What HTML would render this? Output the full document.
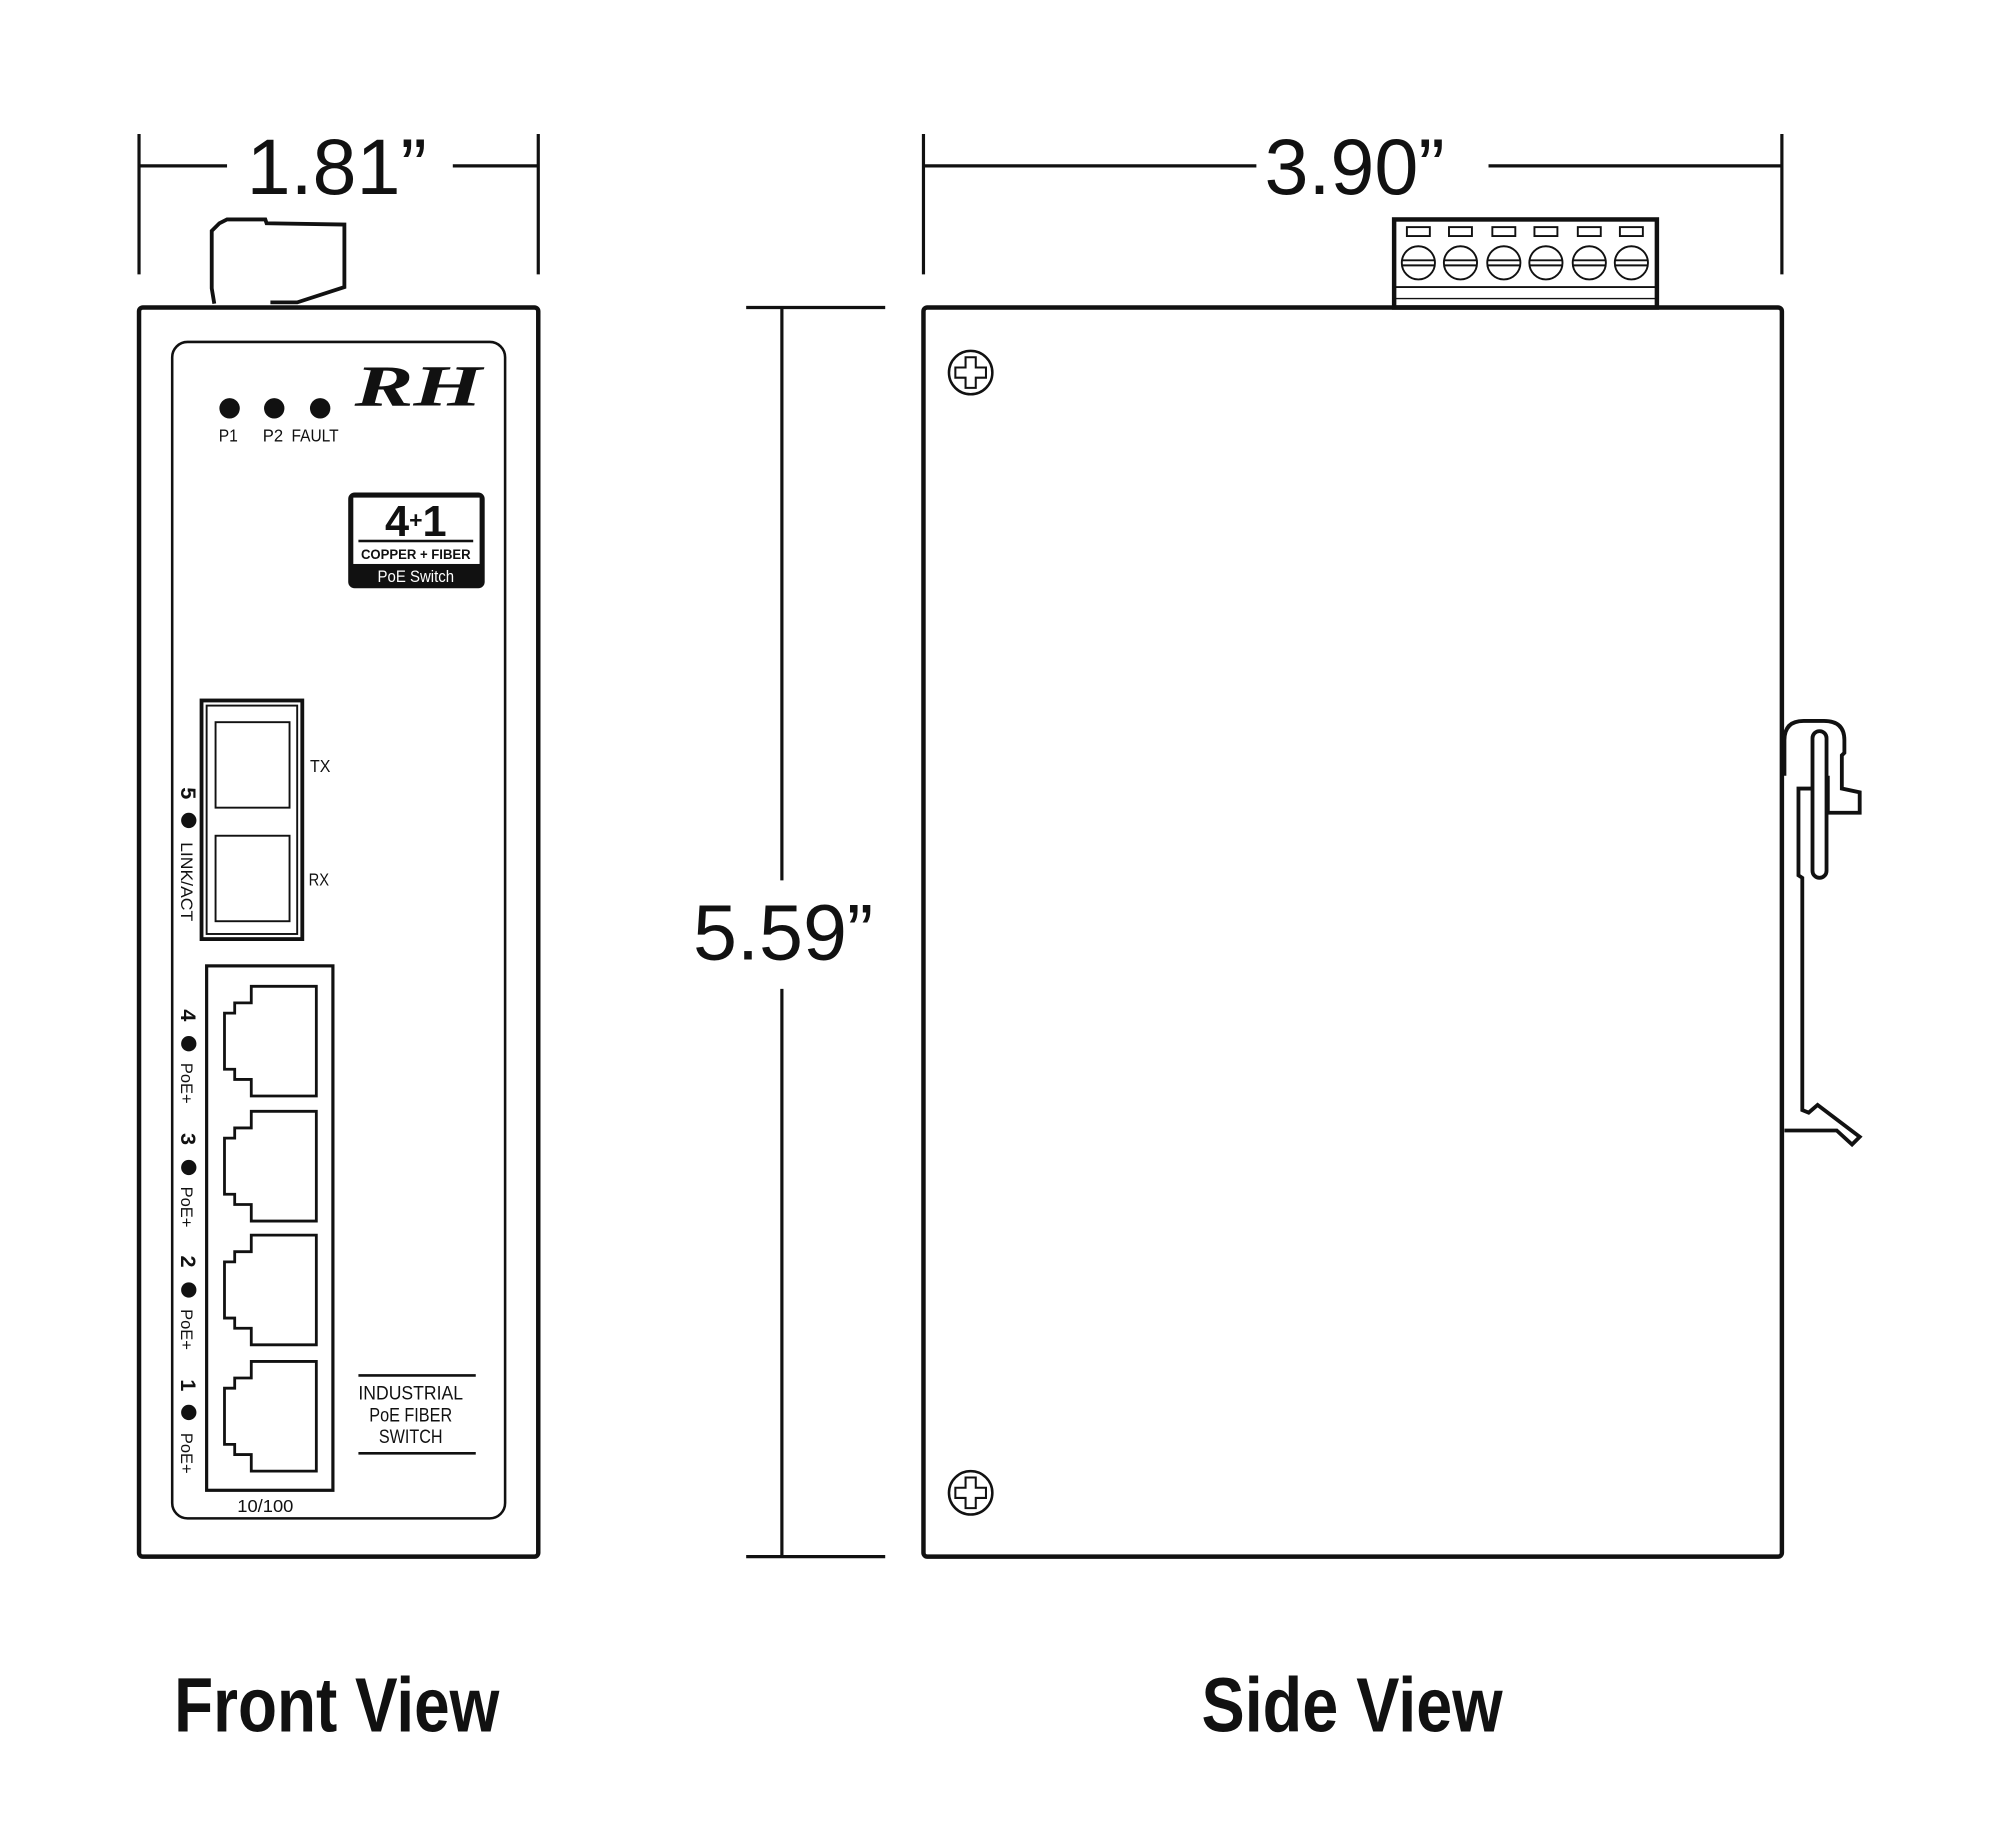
<!DOCTYPE html>
<html><head><meta charset="utf-8"><style>html,body{margin:0;padding:0;background:#fff}svg{display:block}</style></head><body>
<svg width="2000" height="1845" viewBox="0 0 1568 1446" preserveAspectRatio="none" xmlns="http://www.w3.org/2000/svg" font-family="Liberation Sans, sans-serif">
<g stroke="#111" fill="none" stroke-width="2.5">
<line x1="109" y1="105" x2="109" y2="215"/><line x1="422" y1="105" x2="422" y2="215"/>
<line x1="109" y1="130" x2="178" y2="130"/><line x1="355" y1="130" x2="422" y2="130"/>
<line x1="724" y1="105" x2="724" y2="215"/><line x1="1397" y1="105" x2="1397" y2="215"/>
<line x1="724" y1="130" x2="985" y2="130"/><line x1="1167" y1="130" x2="1397" y2="130"/>
<line x1="585" y1="241" x2="694" y2="241"/><line x1="585" y1="1220" x2="694" y2="1220"/>
<line x1="613" y1="241" x2="613" y2="690"/><line x1="613" y1="775" x2="613" y2="1220"/>
<rect x="109" y="241" width="313" height="979" rx="3" stroke-width="3.5"/>
<rect x="135" y="268" width="261" height="922" rx="12" stroke-width="2"/>
<path d="M168,238 L166,226 L166,181 L172,175 L178,172 L208,172 L209,175 L270,176 L270,225 L233,237 L212,237" stroke-width="3"/>
<rect x="158" y="549" width="79" height="187" stroke-width="3"/>
<rect x="162" y="553" width="71" height="179" stroke-width="1.5"/>
<rect x="169" y="566" width="58" height="67" stroke-width="1.5"/>
<rect x="169" y="655" width="58" height="67" stroke-width="1.5"/>
<rect x="162" y="757" width="99" height="411" stroke-width="2.5"/>
<g stroke-width="2.2">
<path d="M197,773 H248 V859 H197 V846 H184 V838 H176 V794 H184 V786 H197 Z"/>
<path d="M197,871 H248 V957 H197 V944 H184 V936 H176 V892 H184 V884 H197 Z"/>
<path d="M197,968 H248 V1054 H197 V1041 H184 V1033 H176 V989 H184 V981 H197 Z"/>
<path d="M197,1067 H248 V1153 H197 V1140 H184 V1132 H176 V1088 H184 V1080 H197 Z"/>
</g>
<line x1="281" y1="1078" x2="373" y2="1078" stroke-width="2"/>
<line x1="281" y1="1139" x2="373" y2="1139" stroke-width="2"/>
<rect x="724" y="241" width="673" height="979" rx="3" stroke-width="3.5"/>
<g stroke-width="2">
<circle cx="761" cy="292" r="17"/><path d="M757,280 h8 v8 h8 v8 h-8 v8 h-8 v-8 h-8 v-8 h8 z" stroke-width="1.6"/>
<circle cx="761" cy="1170" r="17"/><path d="M757,1158 h8 v8 h8 v8 h-8 v8 h-8 v-8 h-8 v-8 h8 z" stroke-width="1.6"/>
</g>
<rect x="1093" y="172" width="206" height="69" stroke-width="3.5"/>
<line x1="1094" y1="225" x2="1298" y2="225" stroke-width="1.5"/>
<line x1="1094" y1="234" x2="1298" y2="234" stroke-width="1"/>
<g stroke-width="1.5">
<rect x="1103" y="178" width="18" height="7"/><rect x="1136" y="178" width="18" height="7"/><rect x="1170" y="178" width="18" height="7"/><rect x="1203" y="178" width="18" height="7"/><rect x="1237" y="178" width="18" height="7"/><rect x="1270" y="178" width="18" height="7"/>
<circle cx="1112" cy="206" r="13"/><circle cx="1145" cy="206" r="13"/><circle cx="1179" cy="206" r="13"/><circle cx="1212" cy="206" r="13"/><circle cx="1246" cy="206" r="13"/><circle cx="1279" cy="206" r="13"/>
<path d="M1099,204h26M1099,208h26M1132,204h26M1132,208h26M1166,204h26M1166,208h26M1199,204h26M1199,208h26M1233,204h26M1233,208h26M1266,204h26M1266,208h26"/>
</g>
<path d="M1399,608 V580 Q1399,565 1414,565 H1430 Q1446,565 1446,580 V590 L1444,592 V618 L1458,621 V637 H1433 V608" stroke-width="3"/>
<rect x="1421" y="573" width="11" height="115" rx="5.5" stroke-width="3"/>
<path d="M1421,618 H1410 V686 L1413,688 V870 L1418,872 L1425,866 L1458,891 L1452,897 L1440,886 H1399" stroke-width="3"/>
</g>
<g fill="#111">
<circle cx="180" cy="320" r="8"/><circle cx="215" cy="320" r="8"/><circle cx="251" cy="320" r="8"/>
<circle cx="148" cy="643" r="6"/><circle cx="148" cy="818" r="6"/><circle cx="148" cy="915" r="6"/><circle cx="148" cy="1011" r="6"/><circle cx="148" cy="1107" r="6"/>
<text x="264" y="152" font-size="62" text-anchor="middle">1.81”</text>
<text x="1062" y="152" font-size="62" text-anchor="middle">3.90”</text>
<text x="614" y="752" font-size="62" text-anchor="middle">5.59”</text>
<g font-size="14" lengthAdjust="spacingAndGlyphs">
<text x="179" y="346" text-anchor="middle" textLength="15" lengthAdjust="spacingAndGlyphs">P1</text>
<text x="214" y="346" text-anchor="middle" textLength="16" lengthAdjust="spacingAndGlyphs">P2</text>
<text x="247" y="346" text-anchor="middle" textLength="37" lengthAdjust="spacingAndGlyphs">FAULT</text>
<text x="243" y="605" textLength="16" lengthAdjust="spacingAndGlyphs">TX</text>
<text x="242" y="694" textLength="16" lengthAdjust="spacingAndGlyphs">RX</text>
<text x="208" y="1185" text-anchor="middle" textLength="44" lengthAdjust="spacingAndGlyphs">10/100</text>
<text x="322" y="1097" text-anchor="middle" font-size="15" textLength="82" lengthAdjust="spacingAndGlyphs">INDUSTRIAL</text>
<text x="322" y="1114" text-anchor="middle" font-size="15" textLength="65" lengthAdjust="spacingAndGlyphs">PoE FIBER</text>
<text x="322" y="1131" text-anchor="middle" font-size="15" textLength="50" lengthAdjust="spacingAndGlyphs">SWITCH</text>
<text transform="translate(142,660) rotate(90)" font-size="13" textLength="62" lengthAdjust="spacingAndGlyphs">LINK/ACT</text>
<text transform="translate(142,833) rotate(90)" font-size="13" textLength="32" lengthAdjust="spacingAndGlyphs">PoE+</text>
<text transform="translate(142,930) rotate(90)" font-size="13" textLength="32" lengthAdjust="spacingAndGlyphs">PoE+</text>
<text transform="translate(142,1026) rotate(90)" font-size="13" textLength="32" lengthAdjust="spacingAndGlyphs">PoE+</text>
<text transform="translate(142,1123) rotate(90)" font-size="13" textLength="32" lengthAdjust="spacingAndGlyphs">PoE+</text>
</g>
<g font-weight="bold" font-size="17">
<text transform="translate(142,617) rotate(90)">5</text>
<text transform="translate(142,791) rotate(90)">4</text>
<text transform="translate(142,888) rotate(90)">3</text>
<text transform="translate(142,984) rotate(90)">2</text>
<text transform="translate(142,1081) rotate(90)">1</text>
</g>
<text x="278" y="318" font-family="Liberation Serif, serif" font-weight="bold" font-style="italic" font-size="46" textLength="100" lengthAdjust="spacingAndGlyphs">RH</text>
<rect x="273" y="386" width="107" height="75" rx="5"/>
<rect x="277" y="390" width="99" height="52" fill="#fff"/>
<text x="326" y="420" text-anchor="middle" font-weight="bold" font-size="34">4<tspan font-size="18" dy="-6">+</tspan><tspan dy="6">1</tspan></text>
<rect x="281" y="423" width="90" height="2"/>
<text x="326" y="438" text-anchor="middle" font-weight="bold" font-size="11" textLength="86" lengthAdjust="spacingAndGlyphs">COPPER + FIBER</text>
<text x="326" y="456" text-anchor="middle" font-size="13" fill="#fff" textLength="60" lengthAdjust="spacingAndGlyphs">PoE Switch</text>
<text x="264" y="1357" text-anchor="middle" font-weight="bold" font-size="60" textLength="255" lengthAdjust="spacingAndGlyphs">Front View</text>
<text x="1060" y="1357" text-anchor="middle" font-weight="bold" font-size="60" textLength="236" lengthAdjust="spacingAndGlyphs">Side View</text>
</g>
</svg>
</body></html>
